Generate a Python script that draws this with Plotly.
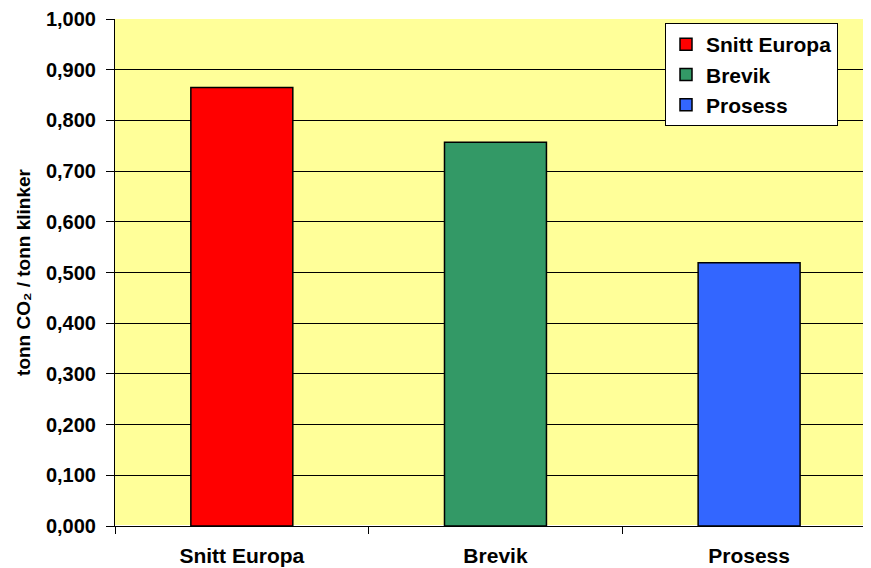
import plotly.graph_objects as go

categories = ["Snitt Europa", "Brevik", "Prosess"]
values = [0.865, 0.757, 0.519]
colors = ["#FF0000", "#339966", "#3366FF"]
y_ticks = [0.0, 0.1, 0.2, 0.3, 0.4, 0.5, 0.6, 0.7, 0.8, 0.9, 1.0]

fig = go.Figure()
for cat, val, col in zip(categories, values, colors):
    fig.add_trace(go.Bar(
        x=[cat], y=[val], name=cat, width=0.402,
        marker=dict(color=col, line=dict(color="black", width=1.5)),
    ))

font = "Liberation Sans, Arial, sans-serif"
fig.update_layout(
    width=871, height=568,
    margin=dict(l=107, r=16, t=11, b=50),
    paper_bgcolor="white",
    plot_bgcolor="#FFFF99",
    barmode="overlay",
    separators=", ",
    font=dict(family=font, color="black"),
    showlegend=True,
    legend=dict(
        x=0.7353, y=0.992, xanchor="left", yanchor="top",
        bgcolor="white", bordercolor="black", borderwidth=1,
        font=dict(family=font, size=21, color="black", weight="bold"),
        itemwidth=30, tracegroupgap=0,
    ),
    xaxis=dict(
        range=[-0.5, 2.449], automargin=False,
        tickson="boundaries", ticks="outside", ticklen=7, tickcolor="black",
        showline=True, linecolor="black", linewidth=1,
        showgrid=False,
        tickfont=dict(family=font, size=21, color="black", weight="bold"),
        ticklabelstandoff=11,
    ),
    yaxis=dict(
        range=[0, 1.0], tickvals=y_ticks, tickformat=".3f", automargin=False,
        ticks="outside", ticklen=8, tickcolor="black",
        showline=True, linecolor="black", linewidth=1,
        showgrid=True, gridcolor="black", gridwidth=1,
        tickfont=dict(family=font, size=20, color="black", weight="bold"),
        ticklabelstandoff=6,
        title=dict(text="tonn CO₂ / tonn klinker",
                   font=dict(family=font, size=19, color="black", weight="bold"),
                   standoff=10),
    ),
)

fig.write_html("out.html")
